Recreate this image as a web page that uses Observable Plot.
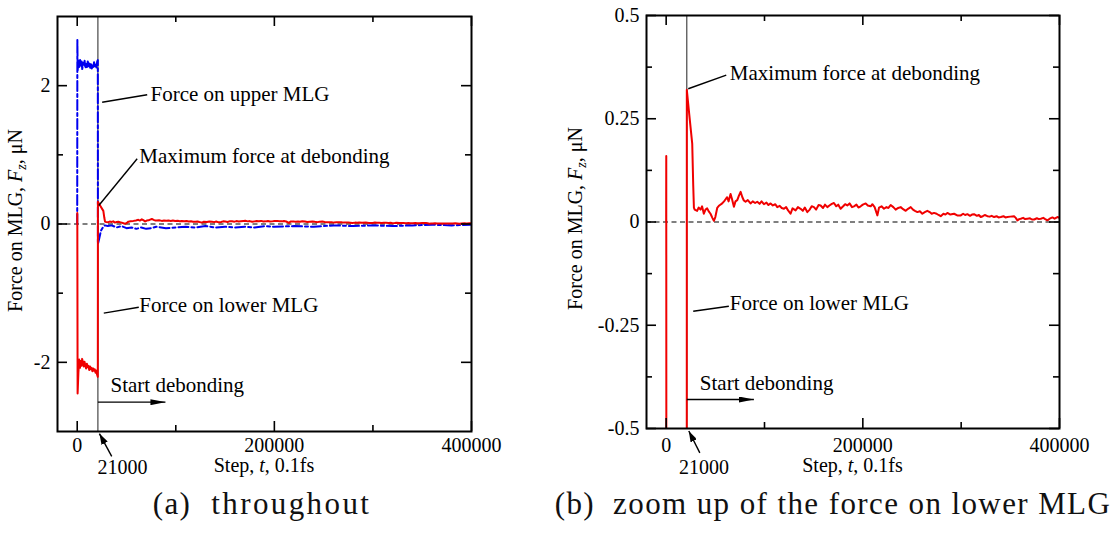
<!DOCTYPE html>
<html><head><meta charset="utf-8">
<script src="https://cdn.jsdelivr.net/npm/d3@7"></script>
<script src="https://cdn.jsdelivr.net/npm/@observablehq/plot@0.6"></script>
<style>
body{margin:0;background:#fff;width:1113px;height:537px;position:relative;overflow:hidden}
.panel{position:absolute;top:0}
.cap{position:absolute;top:486px;font-family:"Liberation Serif","Times New Roman",serif;font-size:31px;letter-spacing:1.4px;white-space:pre;text-align:center;color:#111}
</style></head><body>
<div id="a" class="panel" style="left:0;width:540px"></div>
<div id="b" class="panel" style="left:540px;width:573px"></div>
<div class="cap" style="left:0;width:524px">(a)<span style="margin-left:20px;letter-spacing:2.4px">throughout</span></div>
<div class="cap" style="left:540px;width:586px">(b)<span style="margin-left:18px">zoom up of the force on lower MLG</span></div>
<script>
// ---- data: force on lower MLG (red) ----
const lowerSteps = [0,100,400,1200,2000,2800,3500,4300,5000,5800,6600,7400,8200,9000,9800,10600,11400,12200,13000,13800,14600,15400,16200,17000,17800,18600,19400,20200,20900,21000,
23500,26500,27500,28200,29000,31500,33000,35000,36500,38300,40000,41700,43500,45100,47000,48500,50000,51900,54000,57000,59500,62000,63500,65500,67000,68900,70500,72300,74000,75700,77500,79000,80700,83000,85800,88000,90500,92600,95000,97000,99400,102000,104000,106200,108500,111000,113000,115500,117500,119800,122000,124000,126500,128500,131600,134000,136700,139000,141000,143500,146000,148000,150300,152500,155000,157100,159500,161500,163900,166000,168500,170600,173000,175000,177400,180000,182000,184200,186500,189000,191000,193500,195500,197800,200000,202900,205000,208000,209700,212000,214800,216500,219000,221500,224000,226000,228300,231000,233400,236000,238500,241000,243600,246000,248700,251000,253000,255500,258000,260500,263000,265600,268000,270000,272400,275000,277000,279200,282000,284000,286000,289000,292800,296000,299600,302000,304000,306300,309000,311000,313100,316000,318000,319900,322000,324000,326700,329000,331000,333500,336000,338000,340300,343000,345000,347000,350000,353800,355500,357200,359000,360600,363000,365000,367400,370000,372000,374200,377000,379000,381000,383500,385500,387700,390000,392800,395000,397900,400000];
const lowerForce = [0,0.16,-2.45,-2.15,-1.96,-2.08,-1.98,-2.05,-1.95,-2.0,-2.06,-1.99,-2.04,-2.09,-2.02,-2.07,-2.05,-2.11,-2.06,-2.1,-2.08,-2.13,-2.09,-2.12,-2.1,-2.15,-2.12,-2.18,-2.21,0.32,
0.26,0.19,0.09,0.035,0.03,0.027,0.035,0.03,0.038,0.02,0.03,0.033,0.025,0.02,0.01,0.003,0.012,0.034,0.04,0.045,0.052,0.06,0.05,0.068,0.055,0.037,0.05,0.053,0.064,0.073,0.06,0.052,0.049,0.053,0.045,0.05,0.046,0.049,0.044,0.05,0.043,0.047,0.041,0.045,0.04,0.043,0.036,0.039,0.034,0.032,0.036,0.028,0.02,0.033,0.028,0.036,0.032,0.027,0.035,0.024,0.03,0.038,0.036,0.03,0.041,0.04,0.034,0.042,0.036,0.04,0.044,0.046,0.038,0.042,0.032,0.038,0.043,0.04,0.045,0.036,0.038,0.042,0.035,0.038,0.042,0.045,0.04,0.038,0.043,0.036,0.016,0.035,0.038,0.032,0.036,0.034,0.041,0.036,0.03,0.034,0.036,0.031,0.027,0.032,0.036,0.03,0.027,0.024,0.026,0.02,0.024,0.027,0.024,0.02,0.022,0.02,0.017,0.014,0.02,0.018,0.022,0.018,0.02,0.016,0.016,0.02,0.017,0.019,0.015,0.018,0.019,0.015,0.017,0.012,0.014,0.017,0.014,0.013,0.015,0.012,0.014,0.011,0.012,0.014,0.011,0.012,0.013,0.014,0.01,0.004,0.007,0.008,0.01,0.007,0.008,0.009,0.006,0.006,0.009,0.007,0.008,0.01,0.007,0.004,0.008,0.011,0.008,0.012,0.01];
// ---- data: force on upper MLG (blue) ----
const upperSteps = [0,150,450,1300,2100,2900,3600,4400,5100,5900,6700,7500,8300,9100,9900,10700,11500,12300,13100,13900,14700,15500,16300,17100,17900,18700,19500,20300,20900,21000,22500,24000,26000,28000,31000,35000,40000,45000,50000,55000,60000,65000,70000,75000,80000,90000,100000,110000,120000,130000,140000,150000,160000,170000,180000,190000,200000,220000,240000,260000,280000,300000,320000,340000,360000,380000,400000];
const upperForce = [0,2.66,2.22,2.36,2.27,2.37,2.29,2.35,2.24,2.33,2.28,2.36,2.25,2.33,2.27,2.35,2.28,2.34,2.26,2.31,2.24,2.3,2.27,2.34,2.28,2.32,2.26,2.35,2.37,-0.29,-0.2,-0.1,-0.05,-0.02,-0.03,-0.02,-0.05,-0.03,-0.06,-0.05,-0.07,-0.05,-0.07,-0.06,-0.04,-0.06,-0.05,-0.04,-0.05,-0.03,-0.05,-0.04,-0.05,-0.04,-0.05,-0.03,-0.04,-0.03,-0.04,-0.02,-0.03,-0.02,-0.03,-0.02,-0.01,-0.02,-0.01];
// ---- ticks ----
const xMajor = [0, 200000, 400000];
const xMinor = [100000, 300000];
const yMajorA = [-2, 0, 2];
const yMinorA = [-1, 1];
const yMajorB = [-0.5, -0.25, 0, 0.25, 0.5];
const yMinorB = [-0.375, -0.125, 0.125, 0.375];
const debondStep = [21000];
// ---- annotations (a) ----
const labelsA = ["Force on upper MLG", "Maximum force at debonding", "Force on lower MLG", "Start debonding"];
const labelsAx = [74300, 63000, 63000, 33800];
const labelsAy = [1.88, 0.98, -1.18, -2.335];
const leadAx1 = [25300, 21890, 26960], leadAy1 = [1.761, 0.268, -1.289];
const leadAx2 = [71000, 60830, 62450], leadAy2 = [1.868, 0.943, -1.203];
const startArrA = {x1: [21000], y1: [-2.576], x2: [89530], y2: [-2.576]};
const stepArrA = {x1: [35000], y1: [-3.36], x2: [22500], y2: [-3.03]};
const stepLabA = {x: [46000], y: [-3.52], text: ["21000"]};
// ---- annotations (b) ----
const labelsB = ["Maximum force at debonding", "Force on lower MLG", "Start debonding"];
const labelsBx = [64775, 64775, 34240];
const labelsBy = [0.3604, -0.1976, -0.3897];
const leadBx1 = [22440, 27530], leadBy1 = [0.3226, -0.216];
const leadBx2 = [61110, 63760], leadBy2 = [0.3556, -0.204];
const startArrB = {x1: [21000], y1: [-0.4298], x2: [89200], y2: [-0.4298]};
const stepArrB = {x1: [34240], y1: [-0.559], x2: [23000], y2: [-0.506]};
const stepLabB = {x: [38500], y: [-0.594], text: ["21000"]};

const FONT = "'Liberation Serif','Times New Roman',serif";
const RED = "#f00000", BLUE = "#0000f0";

function headMarker(len, wid) {
  return (color, context) => {
    const doc = (context && context.document) ? context.document : document;
    const ns = "http://www.w3.org/2000/svg";
    const m = doc.createElementNS(ns, "marker");
    m.setAttribute("viewBox", `0 ${-wid / 2} ${len} ${wid}`);
    m.setAttribute("markerWidth", len);
    m.setAttribute("markerHeight", wid);
    m.setAttribute("markerUnits", "userSpaceOnUse");
    m.setAttribute("refX", len);
    m.setAttribute("refY", 0);
    m.setAttribute("orient", "auto");
    const p = doc.createElementNS(ns, "path");
    p.setAttribute("d", `M0,${-wid / 2}L${len},0L0,${wid / 2}Z`);
    p.setAttribute("fill", "black");
    p.setAttribute("stroke", "none");
    m.appendChild(p);
    return m;
  };
}
function arrowMark(a, len, wid) {
  const opts = {x1: a.x1, y1: a.y1, x2: a.x2, y2: a.y2, stroke: "black", strokeWidth: 1.4};
  try { return Plot.link(a.x1, {...opts, markerEnd: headMarker(len, wid)}); }
  catch (e) { return Plot.link(a.x1, {...opts, markerEnd: "arrow"}); }
}

function panel(o) {
  const W = o.width - o.ml - o.mr, H = o.height - o.mt - o.mb;
  const svg = Plot.plot({
    width: o.width, height: o.height,
    marginLeft: o.ml, marginRight: o.mr, marginTop: o.mt, marginBottom: o.mb,
    x: {domain: [-20000, 400000]}, y: {domain: o.yDomain},
    style: {fontFamily: FONT, fontSize: "20px", background: "white", overflow: "visible", color: "black"},
    marks: [
      Plot.ruleY([0], {stroke: "black", strokeWidth: 1.2, strokeDasharray: "5,3.5"}),
      Plot.ruleX(debondStep, {stroke: "#222", strokeWidth: 1}),
      ...(o.showUpper ? [Plot.line(upperSteps, {x: upperSteps, y: upperForce, stroke: BLUE, strokeWidth: 2, strokeDasharray: "10,3,3,3", clip: true})] : []),
      Plot.line(lowerSteps, {x: lowerSteps, y: lowerForce, stroke: RED, strokeWidth: 2, clip: true}),
      Plot.tickX(xMajor, {x: d => d, insetTop: H - 10, strokeWidth: 1.6}),
      Plot.tickX(xMinor, {x: d => d, insetTop: H - 6, strokeWidth: 1.6}),
      Plot.tickX(xMajor, {x: d => d, insetBottom: H - 10, strokeWidth: 1.6}),
      Plot.tickX(xMinor, {x: d => d, insetBottom: H - 6, strokeWidth: 1.6}),
      Plot.tickY(o.yMajor, {y: d => d, insetRight: W - 10, strokeWidth: 1.6}),
      Plot.tickY(o.yMinor, {y: d => d, insetRight: W - 6, strokeWidth: 1.6}),
      Plot.tickY(o.yMajor, {y: d => d, insetLeft: W - 10, strokeWidth: 1.6}),
      Plot.tickY(o.yMinor, {y: d => d, insetLeft: W - 6, strokeWidth: 1.6}),
      Plot.frame({stroke: "black", strokeWidth: 2}),
      Plot.axisX(xMajor, {anchor: "bottom", tickSize: 0, tickPadding: o.xPad, tickFormat: d => String(d), label: null, fontSize: 20}),
      Plot.axisY(o.yMajor, {anchor: "left", tickSize: 0, tickPadding: 7, tickFormat: d => String(d), label: null, fontSize: 20}),
      Plot.text(o.labels, {x: o.labelsX, y: o.labelsY, text: d => d, textAnchor: "start", lineAnchor: "middle", fontSize: 21, fill: "black"}),
      Plot.link(o.leadX1, {x1: o.leadX1, y1: o.leadY1, x2: o.leadX2, y2: o.leadY2, stroke: "black", strokeWidth: 1.4}),
      arrowMark(o.startArr, 15, 6),
      arrowMark(o.stepArr, 11, 7),
      Plot.text(o.stepLab.text, {x: o.stepLab.x, y: o.stepLab.y, text: d => d, textAnchor: "middle", lineAnchor: "middle", fontSize: 20, fill: "black"})
    ]
  });
  const s = d3.select(svg);
  const xl = s.append("text").attr("x", o.ml + W / 2).attr("y", 472).attr("text-anchor", "middle")
    .attr("font-family", FONT).attr("font-size", 20).attr("fill", "black");
  xl.append("tspan").text("Step, ");
  xl.append("tspan").attr("font-style", "italic").text("t");
  xl.append("tspan").text(", 0.1fs");
  const yl = s.append("text").attr("transform", `translate(${o.ylx},${o.mt + H / 2 - 3}) rotate(-90)`)
    .attr("text-anchor", "middle").attr("font-family", FONT).attr("font-size", 20).attr("fill", "black");
  yl.append("tspan").text("Force on MLG, ");
  yl.append("tspan").attr("font-style", "italic").text("F");
  yl.append("tspan").attr("font-style", "italic").attr("font-size", 14).attr("dy", 4).text("z");
  yl.append("tspan").attr("dy", -4).text(", \u03bcN");
  return svg;
}

document.getElementById("a").appendChild(panel({
  width: 540, height: 480, ml: 57, mr: 69, mt: 16, mb: 49, xPad: 6,
  yDomain: [-3, 3], yMajor: yMajorA, yMinor: yMinorA, showUpper: true,
  labels: labelsA, labelsX: labelsAx, labelsY: labelsAy,
  leadX1: leadAx1, leadY1: leadAy1, leadX2: leadAx2, leadY2: leadAy2,
  startArr: startArrA, stepArr: stepArrA, stepLab: stepLabA, ylx: 22
}));
document.getElementById("b").appendChild(panel({
  width: 573, height: 480, ml: 106, mr: 54, mt: 15, mb: 52, xPad: 9,
  yDomain: [-0.5, 0.5], yMajor: yMajorB, yMinor: yMinorB, showUpper: false,
  labels: labelsB, labelsX: labelsBx, labelsY: labelsBy,
  leadX1: leadBx1, leadY1: leadBy1, leadX2: leadBx2, leadY2: leadBy2,
  startArr: startArrB, stepArr: stepArrB, stepLab: stepLabB, ylx: 42
}));
</script>
</body></html>
